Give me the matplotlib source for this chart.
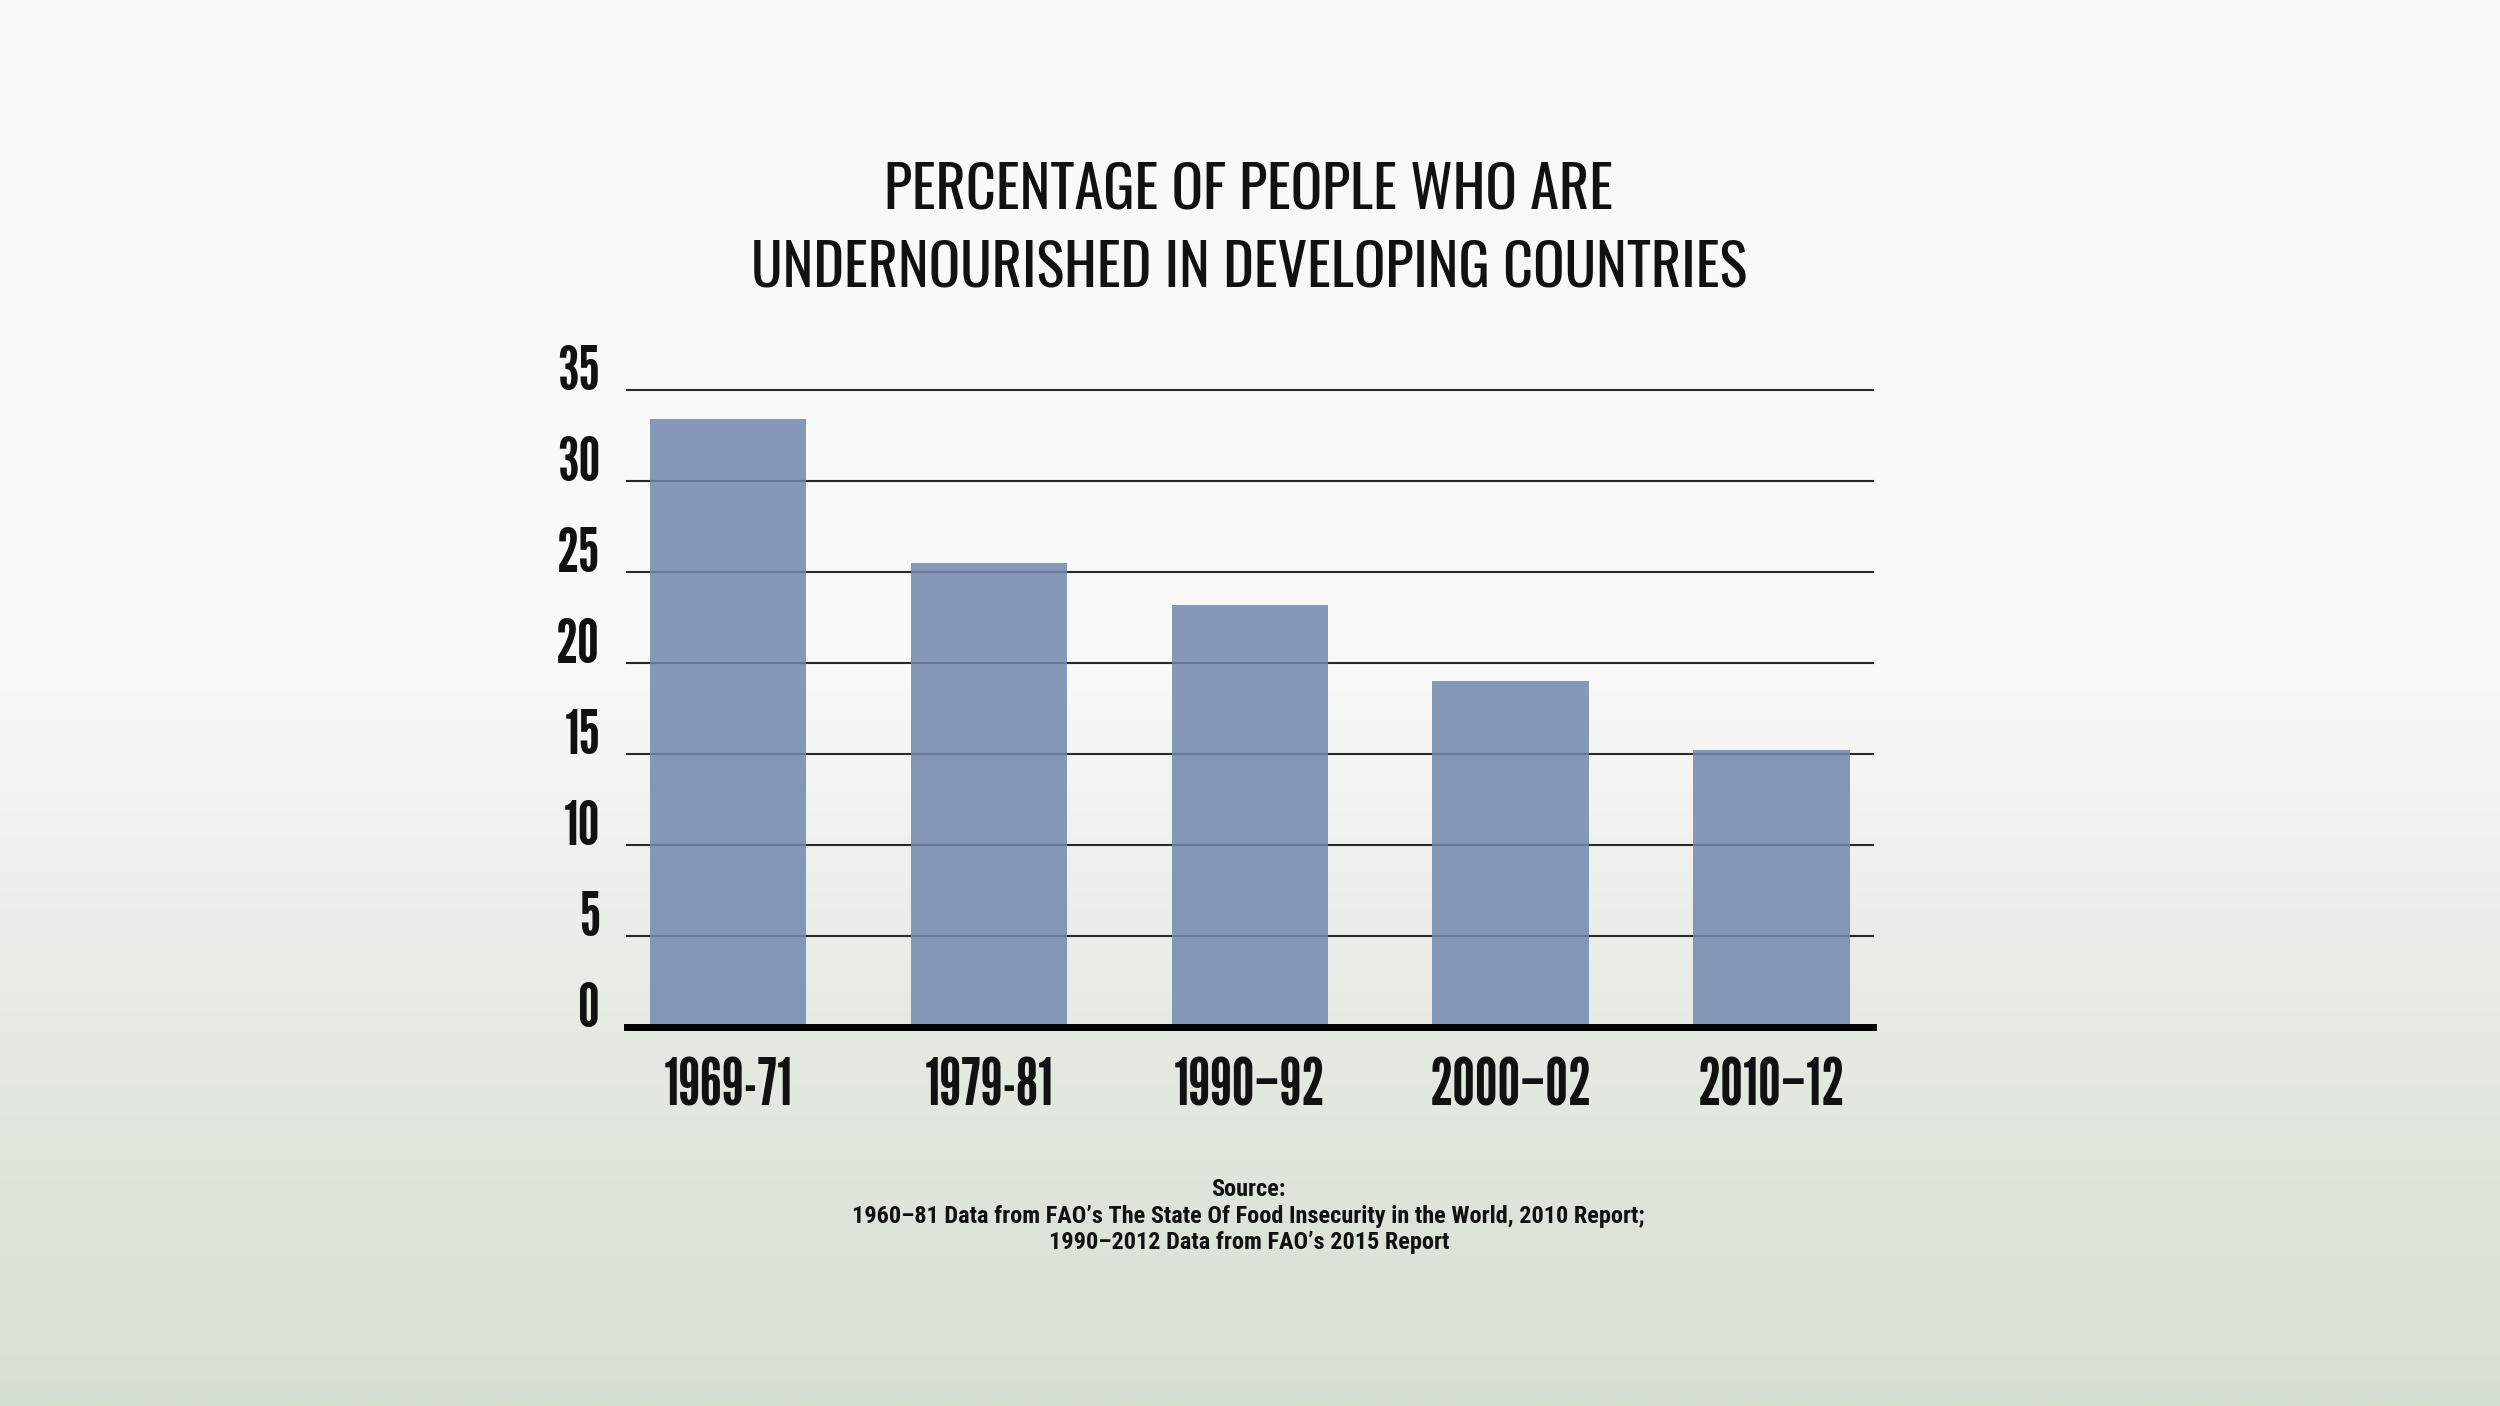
import matplotlib
matplotlib.use("Agg")
import matplotlib.pyplot as plt
import numpy as np

# ---------------- data ----------------
periods = ["1969-71", "1979-81", "1990–92", "2000–02", "2010–12"]
undernourished_pct = [33.4, 25.5, 23.2, 19.0, 15.2]
y_ticks = [0, 5, 10, 15, 20, 25, 30, 35]
title_lines = ["PERCENTAGE OF PEOPLE WHO ARE", "UNDERNOURISHED IN DEVELOPING COUNTRIES"]
source_lines = [
    "Source:",
    "1960–81 Data from FAO’s The State Of Food Insecurity in the World, 2010 Report;",
    "1990–2012 Data from FAO’s 2015 Report",
]

COND = ["League Gothic", "DejaVu Sans"]
TITLE = ["Oswald", "League Gothic", "DejaVu Sans"]
SRC = ["Roboto Condensed", "DejaVu Sans"]
INK = "#111111"

# ---------------- figure ----------------
fig = plt.figure(figsize=(25, 14.06), dpi=100)

# background: pale top fading into misty green
bg = fig.add_axes([0, 0, 1, 1], zorder=0)
t = np.linspace(0, 1, 600)
stops = [0.0, 0.48, 0.66, 0.84, 1.0]
r = np.interp(t, stops, [250, 248, 234, 222, 214])
g = np.interp(t, stops, [250, 249, 238, 230, 224])
b = np.interp(t, stops, [250, 248, 232, 219, 210])
grad = np.stack([r, g, b], axis=1)[:, None, :] / 255.0
bg.imshow(np.repeat(grad, 4, axis=1), aspect="auto", extent=[0, 1, 0, 1])
bg.set_axis_off()

ax = fig.add_axes([0.2506, 0.2696, 0.4986, 0.4530], zorder=1)
ax.patch.set_alpha(0)

x = np.arange(len(periods))
ax.bar(x, undernourished_pct, width=0.6, color="#7287ad", alpha=0.85, zorder=3, linewidth=0)

ax.set_xlim(-0.39, len(periods) - 1 + 0.39)
ax.set_ylim(0, 35)
ax.set_yticks(y_ticks)
ax.set_xticks(x)
ax.set_xticklabels(periods, family=COND, fontsize=46, color=INK)
ax.set_yticklabels([str(v) for v in y_ticks], family=COND, fontsize=44, color=INK)
for lab in ax.get_yticklabels():
    lab.set_va("baseline")

ax.tick_params(axis="both", length=0)
ax.tick_params(axis="y", pad=19)
ax.tick_params(axis="x", pad=22)

ax.yaxis.grid(True, color="#2a2a2a", linewidth=1.5, zorder=2)
for gl in ax.get_ygridlines():
    gl.set_clip_on(False)
ax.set_axisbelow(True)
for s in ["top", "right", "left"]:
    ax.spines[s].set_visible(False)
ax.spines["bottom"].set_linewidth(5)
ax.spines["bottom"].set_color("black")
ax.spines["bottom"].set_zorder(5)

# title
fig.text(0.4995, 0.8645, title_lines[0], ha="center", va="center",
         family=TITLE, weight="light", fontsize=42, color=INK)
fig.text(0.4995, 0.809, title_lines[1], ha="center", va="center",
         family=TITLE, weight="light", fontsize=42, color=INK)

# source
for yy, line in zip([0.1543, 0.1351, 0.1166], source_lines):
    fig.text(0.4995, yy, line, ha="center", va="center",
             family=SRC, weight="bold", fontsize=17.5, color=INK)

fig.savefig("out.png", dpi=100)
